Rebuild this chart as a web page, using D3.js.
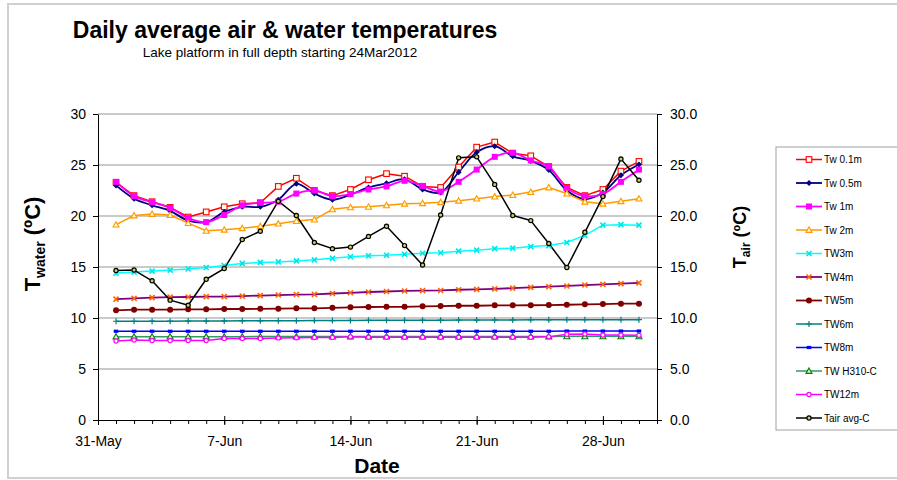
<!DOCTYPE html>
<html>
<head>
<meta charset="utf-8">
<script src="https://cdn.jsdelivr.net/npm/d3@7"></script>
<style>
  body { margin: 0; background: #fff; }
  svg { font-family: "Liberation Sans", Arial, sans-serif; }
</style>
</head>
<body>
<svg id="chart" width="897" height="480"></svg>
<script>
// daily values, 1-Jun to 30-Jun 2012
const dates = ['2012-06-01', '2012-06-02', '2012-06-03', '2012-06-04', '2012-06-05',
  '2012-06-06', '2012-06-07', '2012-06-08', '2012-06-09', '2012-06-10',
  '2012-06-11', '2012-06-12', '2012-06-13', '2012-06-14', '2012-06-15',
  '2012-06-16', '2012-06-17', '2012-06-18', '2012-06-19', '2012-06-20',
  '2012-06-21', '2012-06-22', '2012-06-23', '2012-06-24', '2012-06-25',
  '2012-06-26', '2012-06-27', '2012-06-28', '2012-06-29', '2012-06-30'];

const tw01 = [23.3, 22.0, 21.4, 20.85, 19.9, 20.4, 20.9, 21.2, 21.3, 22.9, 23.7, 22.5, 22.0, 22.6, 23.55,
  24.15, 23.9, 22.9, 22.8, 24.8, 26.75, 27.25, 26.15, 25.9, 24.85, 22.8, 22.0, 22.6, 24.4, 25.35];
const tw05 = [23.0, 21.7, 21.05, 20.5, 19.55, 19.4, 20.4, 20.9, 20.9, 21.6, 23.15, 22.2, 21.6, 22.1, 22.8,
  23.2, 23.6, 22.6, 22.3, 24.3, 26.25, 26.85, 25.85, 25.4, 24.5, 22.5, 21.65, 22.3, 24.0, 25.05];
const tw1 = [23.35, 21.95, 21.35, 20.8, 19.8, 19.4, 20.1, 21.05, 21.3, 21.4, 22.2, 22.5, 21.95, 22.15, 22.6,
  22.9, 23.45, 22.95, 22.4, 23.35, 24.55, 25.8, 26.2, 25.45, 24.85, 22.75, 21.95, 22.15, 23.35, 24.55];
const tw2 = [19.15, 20.05, 20.2, 20.1, 19.3, 18.55, 18.65, 18.8, 19.0, 19.25, 19.5, 19.65, 20.65, 20.85, 20.9,
  21.05, 21.2, 21.25, 21.35, 21.5, 21.7, 21.9, 22.05, 22.35, 22.8, 22.2, 21.4, 21.2, 21.45, 21.7];
const tw3 = [14.4, 14.5, 14.6, 14.7, 14.8, 14.95, 15.15, 15.35, 15.45, 15.5, 15.6, 15.7, 15.85, 16.0, 16.1,
  16.15, 16.25, 16.35, 16.4, 16.55, 16.65, 16.8, 16.85, 17.0, 17.1, 17.4, 18.1, 19.1, 19.15, 19.1];
const tw4 = [11.85, 11.93, 12.0, 12.05, 12.06, 12.1, 12.1, 12.15, 12.2, 12.25, 12.3, 12.32, 12.4, 12.47, 12.55,
  12.6, 12.65, 12.68, 12.7, 12.77, 12.8, 12.85, 12.93, 13.0, 13.07, 13.14, 13.23, 13.3, 13.37, 13.45];
const tw5 = [10.75, 10.82, 10.82, 10.82, 10.85, 10.85, 10.88, 10.88, 10.9, 10.91, 10.95, 10.95, 11.0, 11.05, 11.08,
  11.1, 11.1, 11.14, 11.17, 11.2, 11.2, 11.24, 11.24, 11.25, 11.27, 11.3, 11.34, 11.37, 11.4, 11.4];
const tw6 = [9.68, 9.68, 9.69, 9.69, 9.7, 9.7, 9.71, 9.72, 9.72, 9.73, 9.74, 9.75, 9.75, 9.76, 9.77,
  9.78, 9.78, 9.79, 9.79, 9.8, 9.8, 9.81, 9.81, 9.82, 9.82, 9.83, 9.83, 9.83, 9.84, 9.84];
const tw8 = [8.7, 8.7, 8.7, 8.7, 8.7, 8.7, 8.7, 8.7, 8.7, 8.7, 8.7, 8.7, 8.7, 8.7, 8.7,
  8.7, 8.7, 8.7, 8.7, 8.7, 8.7, 8.7, 8.7, 8.7, 8.7, 8.72, 8.72, 8.72, 8.72, 8.72];
const twH310 = [8.17, 8.17, 8.17, 8.17, 8.17, 8.17, 8.17, 8.17, 8.18, 8.18, 8.18, 8.18, 8.18, 8.18, 8.18,
  8.18, 8.18, 8.18, 8.18, 8.18, 8.19, 8.19, 8.19, 8.19, 8.19, 8.2, 8.2, 8.2, 8.2, 8.2];
const tw12 = [7.75, 7.84, 7.8, 7.8, 7.8, 7.8, 8.0, 8.0, 8.0, 8.05, 8.07, 8.08, 8.1, 8.15, 8.12,
  8.12, 8.12, 8.12, 8.12, 8.12, 8.12, 8.12, 8.12, 8.12, 8.15, 8.4, 8.43, 8.33, 8.33, 8.3];
const tair = [14.65, 14.7, 13.65, 11.75, 11.25, 13.8, 14.85, 17.7, 18.5, 21.45, 20.05, 17.4, 16.8, 16.95, 18.0,
  19.0, 17.1, 15.2, 20.1, 25.7, 25.8, 23.1, 20.05, 19.55, 17.3, 14.95, 18.4, 21.9, 25.6, 23.5];

const waterTicks = [0, 5, 10, 15, 20, 25, 30];
const airTicks = [0, 5, 10, 15, 20, 25, 30];

const series = [
  { name: 'Tw 0.1m', values: tw01, color: '#ff0000', width: 1.5, marker: 'squareOpen', mColor: '#ff0000' },
  { name: 'Tw 0.5m', values: tw05, color: '#000080', width: 1.8, marker: 'diamond', mColor: '#000080', smooth: true },
  { name: 'Tw 1m', values: tw1, color: '#ff00ff', width: 1.8, marker: 'square', mColor: '#ff00ff', smooth: true },
  { name: 'Tw 2m', values: tw2, color: '#ff9900', width: 1.5, marker: 'triangleOpen', mColor: '#ff9900' },
  { name: 'TW3m', values: tw3, color: '#00ffff', width: 1.5, marker: 'cross', mColor: '#00e5e5' },
  { name: 'TW4m', values: tw4, color: '#800080', width: 1.8, marker: 'cross', mColor: '#ff6600' },
  { name: 'TW5m', values: tw5, color: '#800000', width: 1.8, marker: 'circle', mColor: '#800000' },
  { name: 'TW6m', values: tw6, color: '#008080', width: 1.5, marker: 'plus', mColor: '#008080' },
  { name: 'TW8m', values: tw8, color: '#0000ff', width: 1.5, marker: 'dash', mColor: '#0000ff' },
  { name: 'TW H310-C', values: twH310, color: '#339966', width: 1.5, marker: 'triangle', mColor: '#008000' },
  { name: 'TW12m', values: tw12, color: '#ff00ff', width: 1.5, marker: 'circleOpen', mColor: '#ff00ff' },
  { name: 'Tair avg-C', values: tair, color: '#000000', width: 1.5, marker: 'circleOpenDark', mColor: '#000000', air: true }
];

const W = 897;
const margin = { left: 98, right: 657, top: 114, bottom: 420 };
const parse = d3.timeParse('%Y-%m-%d');
const days = dates.map(parse);

const svg = d3.select('#chart');

// outer frame
svg.append('rect')
  .attr('x', 8).attr('y', 4)
  .attr('width', W).attr('height', 474)
  .attr('fill', 'none')
  .attr('stroke', '#d0d0d0')
  .attr('stroke-width', 2);

const x = d3.scaleTime()
  .domain([parse('2012-05-31'), parse('2012-07-01')])
  .range([margin.left, margin.right]);
const yW = d3.scaleLinear().domain([0, 30]).range([margin.bottom, margin.top]);
const yA = d3.scaleLinear().domain([0, 30]).range([margin.bottom, margin.top]);

// gridlines
svg.append('g')
  .selectAll('line')
  .data(waterTicks.filter(d => d > 0))
  .join('line')
  .attr('x1', margin.left).attr('x2', margin.right)
  .attr('y1', d => yW(d)).attr('y2', d => yW(d))
  .attr('stroke', '#969696')
  .attr('stroke-width', 1.2);

// left axis
const leftAxis = svg.append('g')
  .attr('transform', `translate(${margin.left},0)`)
  .call(d3.axisLeft(yW).tickValues(waterTicks).tickSize(5).tickPadding(7).tickSizeOuter(0));
// right axis
const rightAxis = svg.append('g')
  .attr('transform', `translate(${margin.right},0)`)
  .call(d3.axisRight(yA).tickValues(airTicks).tickFormat(d3.format('.1f')).tickSize(5).tickPadding(8).tickSizeOuter(0));
// bottom axis: minor day ticks, then major weekly ticks
svg.append('g')
  .attr('transform', `translate(0,${margin.bottom})`)
  .call(d3.axisBottom(x).ticks(d3.timeDay.every(1)).tickSize(4).tickFormat('').tickSizeOuter(0));
const bottomAxis = svg.append('g')
  .attr('transform', `translate(0,${margin.bottom})`)
  .call(d3.axisBottom(x).ticks(d3.timeDay.filter(d => d3.timeDay.count(parse('2012-05-31'), d) % 7 === 0))
    .tickFormat(d3.timeFormat('%-d-%b')).tickSize(5).tickPadding(8).tickSizeOuter(0));
bottomAxis.selectAll('.tick line').attr('y1', -4);

[leftAxis, rightAxis, bottomAxis].forEach(a => {
  a.selectAll('text').attr('font-size', 14).attr('fill', '#000')
    .attr('font-family', '"Liberation Sans", Arial, sans-serif');
  a.select('.domain').attr('stroke', '#000');
});
bottomAxis.selectAll('text').attr('dy', '0.9em');

// series lines
const plot = svg.append('g');
const draw = plot.append('g');
series.forEach(s => {
  const yS = s.air ? yA : yW;
  const line = d3.line()
    .x((d, i) => x(days[i]))
    .y(d => yS(d))
    .curve(s.smooth ? d3.curveCatmullRom.alpha(0.5) : d3.curveLinear);
  draw.append('path')
    .datum(s.values)
    .attr('d', line)
    .attr('fill', 'none')
    .attr('stroke', s.color)
    .attr('stroke-width', s.width)
    .attr('stroke-linejoin', 'round');
});

function marker (g, type, color, cx, cy) {
  switch (type) {
    case 'squareOpen':
      g.append('rect').attr('x', cx - 2.8).attr('y', cy - 2.8).attr('width', 5.6).attr('height', 5.6)
        .attr('fill', '#ffffe8').attr('stroke', color).attr('stroke-width', 1.1);
      break;
    case 'square':
      g.append('rect').attr('x', cx - 3).attr('y', cy - 3).attr('width', 6).attr('height', 6)
        .attr('fill', color);
      break;
    case 'diamond':
      g.append('path').attr('d', `M${cx},${cy - 3}L${cx + 3},${cy}L${cx},${cy + 3}L${cx - 3},${cy}Z`)
        .attr('fill', color);
      break;
    case 'triangleOpen':
      g.append('path').attr('d', `M${cx},${cy - 3}L${cx + 3},${cy + 2.4}L${cx - 3},${cy + 2.4}Z`)
        .attr('fill', '#ffffcc').attr('stroke', color).attr('stroke-width', 1.1);
      break;
    case 'triangle':
      g.append('path').attr('d', `M${cx},${cy - 3}L${cx + 3},${cy + 2.4}L${cx - 3},${cy + 2.4}Z`)
        .attr('fill', '#ccffcc').attr('stroke', color).attr('stroke-width', 1.1);
      break;
    case 'cross':
      g.append('path').attr('d', `M${cx - 2.5},${cy - 2.5}L${cx + 2.5},${cy + 2.5}M${cx - 2.5},${cy + 2.5}L${cx + 2.5},${cy - 2.5}`)
        .attr('stroke', color).attr('stroke-width', 1.6);
      break;
    case 'plus':
      g.append('path').attr('d', `M${cx - 3},${cy}L${cx + 3},${cy}M${cx},${cy - 3}L${cx},${cy + 3}`)
        .attr('stroke', color).attr('stroke-width', 1.2);
      break;
    case 'circle':
      g.append('circle').attr('cx', cx).attr('cy', cy).attr('r', 3).attr('fill', color);
      break;
    case 'dash':
      g.append('rect').attr('x', cx - 2.3).attr('y', cy - 1.6).attr('width', 4.6).attr('height', 3.2)
        .attr('fill', color);
      break;
    case 'circleOpen':
      g.append('circle').attr('cx', cx).attr('cy', cy).attr('r', 2.1)
        .attr('fill', '#ffffff').attr('stroke', color).attr('stroke-width', 1.2);
      break;
    case 'circleOpenDark':
      g.append('circle').attr('cx', cx).attr('cy', cy).attr('r', 2.1)
        .attr('fill', '#cccc66').attr('stroke', color).attr('stroke-width', 1.2);
      break;
  }
}

// markers drawn in series order (later series on top)
series.forEach(s => {
  const yS = s.air ? yA : yW;
  const mg = plot.append('g');
  s.values.forEach((v, i) => marker(mg, s.marker, s.mColor, x(days[i]), yS(v)));
});

// titles
svg.append('text')
  .attr('x', 285).attr('y', 38)
  .attr('text-anchor', 'middle')
  .attr('font-size', 23).attr('font-weight', 'bold')
  .text('Daily average air & water temperatures');
svg.append('text')
  .attr('x', 280).attr('y', 57)
  .attr('text-anchor', 'middle')
  .attr('font-size', 13.5)
  .text('Lake platform in full depth starting 24Mar2012');

svg.append('text')
  .attr('x', 377).attr('y', 473)
  .attr('text-anchor', 'middle')
  .attr('font-size', 21).attr('font-weight', 'bold')
  .text('Date');

const yTitle = svg.append('text')
  .attr('transform', 'translate(40,244) rotate(-90)')
  .attr('text-anchor', 'middle')
  .attr('font-weight', 'bold');
yTitle.append('tspan').attr('font-size', 22).text('T');
yTitle.append('tspan').attr('font-size', 14).attr('dy', 5).text('water');
yTitle.append('tspan').attr('font-size', 22).attr('dy', -5).text(' (ºC)');

const airTitle = svg.append('text')
  .attr('transform', 'translate(746,237) rotate(-90)')
  .attr('text-anchor', 'middle')
  .attr('font-weight', 'bold');
airTitle.append('tspan').attr('font-size', 18).text('T');
airTitle.append('tspan').attr('font-size', 12).attr('dy', 4).text('air');
airTitle.append('tspan').attr('font-size', 18).attr('dy', -4).text(' (ºC)');

// legend
const legend = svg.append('g');
legend.append('rect')
  .attr('x', 776).attr('y', 147)
  .attr('width', 140).attr('height', 283)
  .attr('fill', '#fff')
  .attr('stroke', '#a0a0a0');
series.forEach((s, i) => {
  const ly = 159.5 + i * 23.5;
  legend.append('line')
    .attr('x1', 796).attr('x2', 822)
    .attr('y1', ly).attr('y2', ly)
    .attr('stroke', s.color).attr('stroke-width', s.width);
  marker(legend, s.marker, s.mColor, 809, ly);
  legend.append('text')
    .attr('x', 824).attr('y', ly)
    .attr('dy', '0.35em')
    .attr('font-size', 10)
    .text(s.name);
});
</script>
</body>
</html>
